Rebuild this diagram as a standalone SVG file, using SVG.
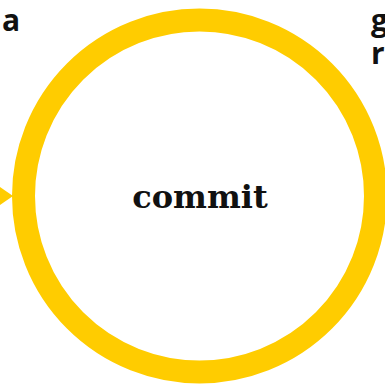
<svg xmlns="http://www.w3.org/2000/svg" width="385" height="385" viewBox="0 0 385 385">
<style>
.lbl{font-family:"Open Sans","Liberation Sans",sans-serif;font-weight:700;font-size:30px;fill:#111}
.node{fill:#fff;stroke:#FFCC00;stroke-width:23}
.title{font-family:"DejaVu Serif","Liberation Serif",serif;font-weight:700;font-size:32px;fill:#111}
</style>
<rect width="385" height="385" fill="#fff"/>
<g id="connectors">
<polygon points="-3,185 13,196 -3,207" fill="#FFCC00"/>
</g>
<g id="node-commit">
<circle class="node" cx="199.5" cy="196" r="176"/>
<text class="title" x="200" y="208" text-anchor="middle">commit</text>
</g>
<g id="label-left">
<text class="lbl" x="2" y="31">a</text>
</g>
<g id="label-right">
<text class="lbl" x="371" y="31">g</text>
<text class="lbl" x="371" y="64">r</text>
</g>
</svg>
